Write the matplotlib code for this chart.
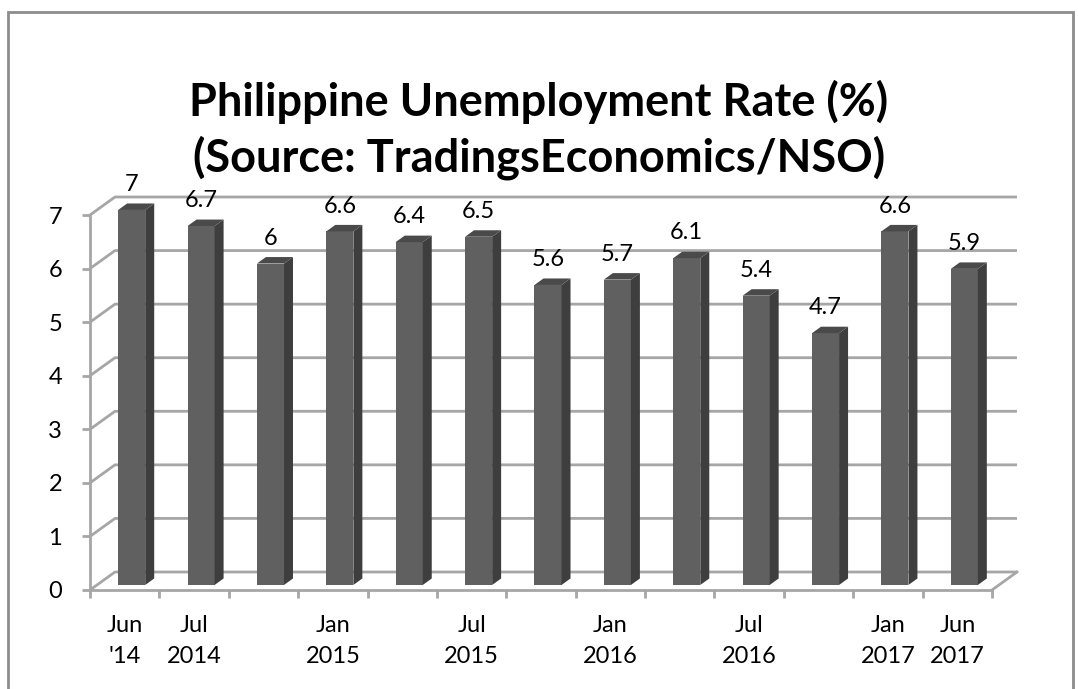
import matplotlib.pyplot as plt
from matplotlib.patches import Polygon, Rectangle

plt.rcParams['font.family'] = ['Lato', 'DejaVu Sans']

periods = ["Jun\n'14", "Jul\n2014", "", "Jan\n2015", "", "Jul\n2015", "",
           "Jan\n2016", "", "Jul\n2016", "", "Jan\n2017", "Jun\n2017"]
rates = [7, 6.7, 6, 6.6, 6.4, 6.5, 5.6, 5.7, 6.1, 5.4, 4.7, 6.6, 5.9]
value_ticks = [0, 1, 2, 3, 4, 5, 6, 7]

# oblique depth of the fake 3d box, in data units
DX, DY = 0.36, 0.336
D0, D1 = 0.28, 0.64      # bar front / back depth fraction
BW = 0.39                # bar width in categories
GRID = '#a6a6a6'
FS = 17

fig = plt.figure(figsize=(10.78, 6.89), dpi=100)
ax = fig.add_axes([90/1078, 99/689, 902/1078, 375/689])
n = len(rates)
ax.set_xlim(0, n)
ax.set_ylim(0, 7)

# walls: gridlines with slanted left side
for v in value_ticks:
    ax.plot([0, DX, n + DX], [v, v + DY, v + DY], color=GRID, lw=2,
            clip_on=False, zorder=1, solid_capstyle='butt')
ax.plot([n, n + DX], [0, DY], color=GRID, lw=2, clip_on=False, zorder=1)

# bars
for i, v in enumerate(rates):
    xl = i + 0.5 - BW / 2 + D0 * DX
    xr = xl + BW
    y0 = D0 * DY
    ddx, ddy = (D1 - D0) * DX, (D1 - D0) * DY
    ax.add_patch(Rectangle((xl, y0), BW, v, facecolor='#606060',
                           edgecolor='none', zorder=3, clip_on=False))
    ax.add_patch(Polygon([(xr, y0), (xr, v + y0), (xr + ddx, v + y0 + ddy),
                          (xr + ddx, y0 + ddy)], closed=True,
                         facecolor='#3e3e3e', edgecolor='none', zorder=3,
                         clip_on=False))
    ax.add_patch(Polygon([(xl, v + y0), (xr, v + y0), (xr + ddx, v + y0 + ddy),
                          (xl + ddx, v + y0 + ddy)], closed=True,
                         facecolor='#4a4a4a', edgecolor='none', zorder=3,
                         clip_on=False))
    ax.annotate(f"{v:g}", (xl + BW / 2, v + y0 + ddy), xytext=(0, 6),
                textcoords='offset points', ha='center', va='bottom',
                fontsize=FS, color='black', zorder=4, annotation_clip=False)

for s in ['top', 'right']:
    ax.spines[s].set_visible(False)
for s in ['left', 'bottom']:
    ax.spines[s].set_color(GRID)
    ax.spines[s].set_linewidth(2)
    ax.spines[s].set_zorder(2)

ax.set_yticks(value_ticks)
ax.tick_params(axis='y', length=6, width=2, color=GRID, pad=14, labelsize=FS)
ax.set_xticks(range(n + 1))
ax.set_xticklabels([])
ax.set_xticks([i + 0.5 for i in range(n)], minor=True)
ax.set_xticklabels(periods, minor=True, fontsize=FS, linespacing=1.6)
ax.tick_params(axis='x', which='major', length=6, width=2, color=GRID)
ax.tick_params(axis='x', which='minor', length=0, pad=18)
ax.patch.set_visible(False)

fig.text(0.5, 1 - 130/689, "Philippine Unemployment Rate (%)\n(Source: TradingsEconomics/NSO)",
         ha='center', va='center', fontsize=32.5, fontweight='bold',
         linespacing=1.3)
# header line of the page, mostly cut off above the frame
fig.text(65/1078, 1 + 6/689, "Unemployment Rate in the Philippines", ha='left',
         va='baseline', fontsize=20, fontweight='bold')

fig.patches.append(Rectangle((8/1078, -0.05), 1065/1078, 1.05 - 12/689,
                             transform=fig.transFigure, fill=False,
                             edgecolor='#8c8c8c', lw=2))

fig.savefig('out.png', dpi=100)
